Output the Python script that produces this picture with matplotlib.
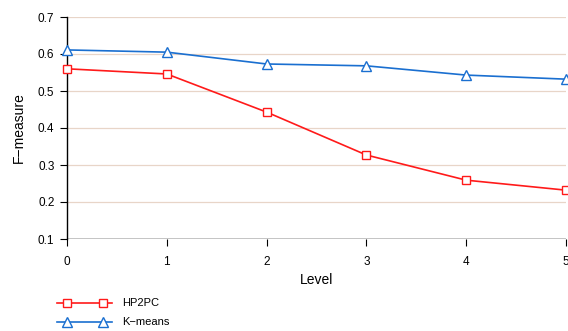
import matplotlib
matplotlib.use("Agg")
import matplotlib.pyplot as plt
from matplotlib.lines import Line2D

levels = [0, 1, 2, 3, 4, 5]
hp2pc = [0.560, 0.546, 0.443, 0.327, 0.259, 0.232]
kmeans = [0.611, 0.605, 0.573, 0.568, 0.543, 0.532]
yticks = [0.1, 0.2, 0.3, 0.4, 0.5, 0.6, 0.7]
series = [("HP2PC", hp2pc, '#ff1a1a', 's', 6.0),
          ("K\u2212means", kmeans, '#1a6fd0', '^', 7.0)]

plt.rcParams['font.family'] = ['Liberation Sans', 'DejaVu Sans']

W, H = 568, 331
fig = plt.figure(figsize=(W/100, H/100), dpi=100)
ax = fig.add_axes([67/W, 1-239/H, (566-67)/W, (239-17)/H])

for y in yticks:
    ax.axhline(y, color='#e8d5c8', lw=0.9, zorder=0)
ax.axhline(0.1, color='#bbbbbb', lw=1.2, zorder=0.5)

for name, vals, col, mk, ms in series:
    ax.plot(levels, vals, color=col, lw=1.2, marker=mk, ms=ms,
            mfc='white', mec=col, mew=1.0, zorder=3, clip_on=False)

ax.set_xlim(0, 5)
ax.set_ylim(0.1, 0.7)
ax.set_xticks(levels)
ax.set_yticks(yticks)
ax.set_yticklabels([f"{v:.1f}" for v in yticks])
for s in ['top', 'right', 'bottom']:
    ax.spines[s].set_visible(False)
ax.spines['left'].set_color('black')
ax.spines['left'].set_linewidth(1.0)
ax.tick_params(axis='both', labelsize=8.5, length=5, width=0.8, color='black')
ax.tick_params(axis='x', pad=7)
ax.tick_params(axis='y', pad=4)
ax.set_xlabel('Level', fontsize=10, labelpad=3.5)
ax.set_ylabel('F\u2212measure', fontsize=10, labelpad=9)

# legend drawn manually
for i, (name, vals, col, mk, ms) in enumerate(series):
    yp = 1 - (303 + 19*i)/H
    fig.add_artist(Line2D([57/W, 112/W], [yp, yp], color=col, lw=1.2,
                          transform=fig.transFigure))
    fig.add_artist(Line2D([67/W, 103/W], [yp, yp], ls='none', marker=mk, ms=ms,
                          mfc='white', mec=col, mew=1.0, transform=fig.transFigure))
    fig.text(122/W, yp, name, fontsize=8, va='center', ha='left')

fig.savefig('out.png', dpi=100)
